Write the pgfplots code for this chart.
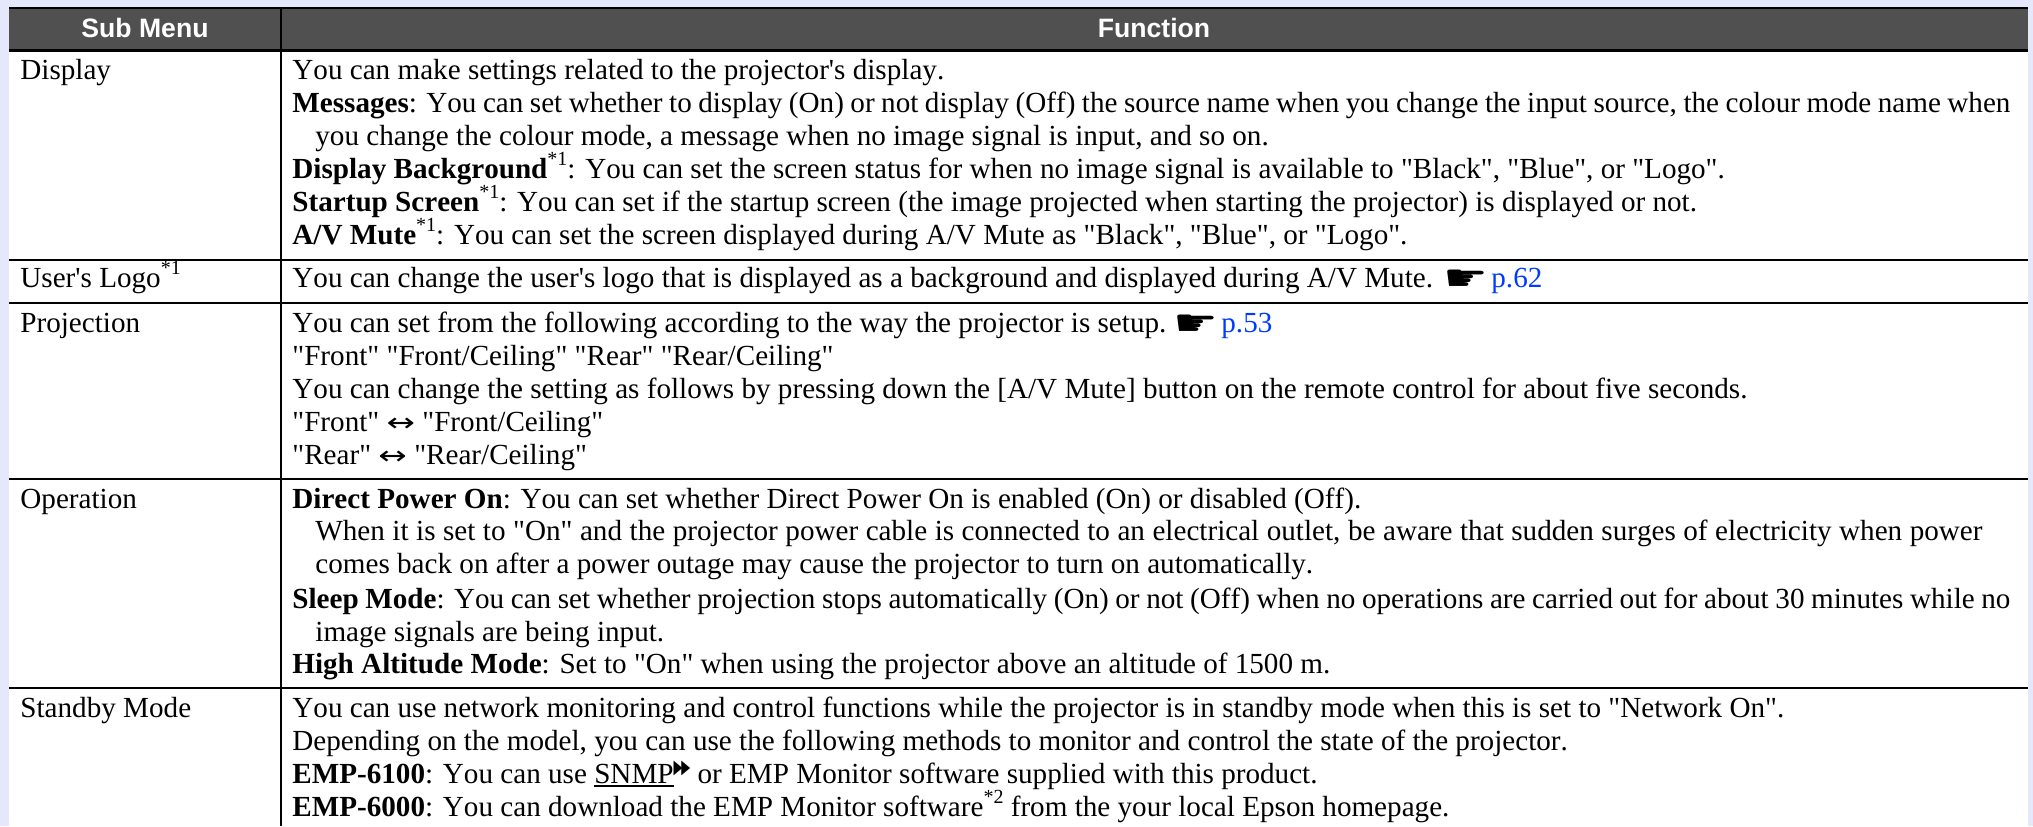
\documentclass[border=0pt]{standalone}
\usepackage{pgfplots}
\pgfplotsset{compat=1.18}
\usepackage{graphicx}
\usepackage{fontspec}
\setmainfont[Ligatures=TeXOff,Kerning=Off]{Liberation Serif}
\newfontfamily\hdr{Liberation Sans}
\newfontfamily\sym{DejaVu Sans}
\definecolor{pagebg}{RGB}{229,232,250}
\definecolor{headbg}{RGB}{80,80,80}
\definecolor{lnk}{RGB}{0,60,255}
\newcommand{\Tsize}{\fontsize{14.57pt}{16pt}\selectfont}
\newcommand{\T}[3]{\node[anchor=base west,inner sep=0pt,font=\Tsize] at (axis cs:#1,#2) {#3};}
\newcommand{\J}[4]{\node[anchor=base west,inner sep=0pt,font=\Tsize] at (axis cs:#1,#2) {\hbox to #3pt{#4}};}
\newcommand{\Sup}{\raisebox{0.42em}{\fontsize{10pt}{10pt}\selectfont *1}}
\newcommand{\Supb}{\raisebox{0.42em}{\fontsize{10pt}{10pt}\selectfont *2}}
\newcommand{\Hand}{\raisebox{-1.5pt}{\scalebox{1}[0.72]{\sym\fontsize{25pt}{25pt}\selectfont ☛}}}
\newcommand{\Arr}{\scalebox{1}[0.75]{\sym\fontsize{17pt}{16pt}\selectfont ↔}}
\newcommand{\Tri}{\raisebox{5pt}{\sym\fontsize{9.7pt}{10pt}\selectfont\scalebox{0.6}[1]{▶}\kern-0.6pt\scalebox{0.6}[1]{▶}}}
\newcommand{\Ul}[1]{\setbox0\hbox{#1}\rlap{\rule[-1.8pt]{\wd0}{0.8pt}}\box0}
\begin{document}
\begin{tikzpicture}
\begin{axis}[
  scale only axis, width=1016.5pt, height=413pt,
  xmin=0, xmax=2033, ymin=0, ymax=826, y dir=reverse,
  hide axis, clip=true]
\addplot[fill=pagebg,draw=none,forget plot] coordinates {(0,0)(2033,0)(2033,826)(0,826)} --cycle;
\addplot[fill=white,draw=none,forget plot] coordinates {(9,8)(2028,8)(2028,826)(9,826)} --cycle;
\addplot[fill=headbg,draw=none,forget plot] coordinates {(9,8)(2028,8)(2028,50)(9,50)} --cycle;
\addplot[black,line width=1pt,forget plot] coordinates {(9,8)(2028,8)};
\addplot[black,line width=1.25pt,forget plot] coordinates {(9,50.5)(2028,50.5)};
\addplot[black,line width=1pt,forget plot] coordinates {(9,259.5)(2028,259.5)};
\addplot[black,line width=1pt,forget plot] coordinates {(9,302.5)(2028,302.5)};
\addplot[black,line width=1pt,forget plot] coordinates {(9,479)(2028,479)};
\addplot[black,line width=1pt,forget plot] coordinates {(9,687.5)(2028,687.5)};
\addplot[black,line width=1pt,forget plot] coordinates {(281,8)(281,826)};
\node[anchor=base,inner sep=0pt,text=white,font=\hdr\bfseries\fontsize{13.3pt}{16pt}\selectfont] at (axis cs:145,37) {Sub Menu};
\node[anchor=base,inner sep=0pt,text=white,font=\hdr\bfseries\fontsize{13.3pt}{16pt}\selectfont] at (axis cs:1154,37) {Function};
\T{20}{79}{Display}
\T{20}{287}{User's Logo\Sup}
\T{20}{332}{Projection}
\T{20}{508}{Operation}
\T{20}{717}{Standby Mode}
\T{292}{79}{You can make settings related to the projector's display.}
\J{292}{112}{859}{\textbf{Messages}: You can set whether to display (On) or not display (Off) the source name when you change the input source, the colour mode name when}
\T{315}{145}{you change the colour mode, a message when no image signal is input, and so on.}
\T{292}{178}{\textbf{Display Background}\Sup: You can set the screen status for when no image signal is available to "Black", "Blue", or "Logo".}
\T{292}{211}{\textbf{Startup Screen}\Sup: You can set if the startup screen (the image projected when starting the projector) is displayed or not.}
\T{292}{244}{\textbf{A/V Mute}\Sup: You can set the screen displayed during A/V Mute as "Black", "Blue", or "Logo".}
\T{292}{287}{You can change the user's logo that is displayed as a background and displayed during A/V Mute.}
\T{1443}{287}{\Hand}
\T{1491}{287}{\textcolor{lnk}{p.62}}
\T{292}{332}{You can set from the following according to the way the projector is setup.}
\T{1173}{332}{\Hand}
\T{1221}{332}{\textcolor{lnk}{p.53}}
\T{292}{365}{"Front" "Front/Ceiling" "Rear" "Rear/Ceiling"}
\T{292}{398}{You can change the setting as follows by pressing down the [A/V Mute] button on the remote control for about five seconds.}
\T{292}{431}{"Front" \Arr\ "Front/Ceiling"}
\T{292}{464}{"Rear" \Arr\ "Rear/Ceiling"}
\T{292}{508}{\textbf{Direct Power On}: You can set whether Direct Power On is enabled (On) or disabled (Off).}
\J{315}{540}{833.5}{When it is set to "On" and the projector power cable is connected to an electrical outlet, be aware that sudden surges of electricity when power}
\T{315}{573}{comes back on after a power outage may cause the projector to turn on automatically.}
\J{292}{608}{859}{\textbf{Sleep Mode}: You can set whether projection stops automatically (On) or not (Off) when no operations are carried out for about 30 minutes while no}
\T{315}{641}{image signals are being input.}
\T{292}{673}{\textbf{High Altitude Mode}: Set to "On" when using the projector above an altitude of 1500 m.}
\T{292}{717}{You can use network monitoring and control functions while the projector is in standby mode when this is set to "Network On".}
\T{292}{750}{Depending on the model, you can use the following methods to monitor and control the state of the projector.}
\T{292}{783}{\textbf{EMP-6100}: You can use \Ul{SNMP}\Tri\ or EMP Monitor software supplied with this product.}
\T{292}{816}{\textbf{EMP-6000}: You can download the EMP Monitor software\Supb\ from the your local Epson homepage.}
\end{axis}
\end{tikzpicture}
\end{document}
